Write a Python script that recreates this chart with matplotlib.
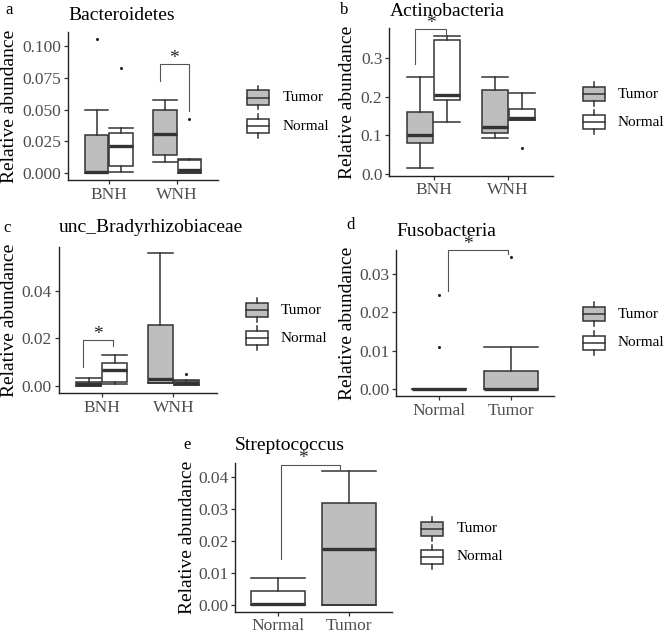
import matplotlib
matplotlib.use('Agg')
import matplotlib.pyplot as plt
from matplotlib.patches import Rectangle
from matplotlib.lines import Line2D

plt.rcParams['font.family'] = ['Liberation Serif', 'DejaVu Serif']

W, H = 667, 632

# ---------------- data (whislo, q1, median, q3, whishi) ----------------
groups_ab = ["BNH", "WNH"]
groups_de = ["Normal", "Tumor"]

# a: Bacteroidetes
bact_tumor = [[0.0, 0.0, 0.0013, 0.0298, 0.0497], [0.0086, 0.0141, 0.0309, 0.0495, 0.0576]]
bact_tumor_fliers = [[0.1055], []]
bact_normal = [[0.0013, 0.0058, 0.0217, 0.0317, 0.0351], [0.0, 0.0, 0.0026, 0.0105, 0.0113]]
bact_normal_fliers = [[0.0822], [0.0427]]
bact_yticks = [0.0, 0.025, 0.05, 0.075, 0.1]
bact_yticklabels = ["0.000", "0.025", "0.050", "0.075", "0.100"]

# b: Actinobacteria
actino_tumor = [[0.0153, 0.0797, 0.1017, 0.161, 0.250], [0.094, 0.106, 0.121, 0.218, 0.250]]
actino_tumor_fliers = [[], []]
actino_normal = [[0.136, 0.192, 0.2034, 0.347, 0.356], [0.140, 0.140, 0.144, 0.169, 0.2085]]
actino_normal_fliers = [[], [0.0678]]
actino_yticks = [0.0, 0.1, 0.2, 0.3]
actino_yticklabels = ["0.0", "0.1", "0.2", "0.3"]

# c: unc_Bradyrhizobiaceae
brady_tumor = [[0.0, 0.0001, 0.00084, 0.00168, 0.00336], [0.0012, 0.0013, 0.0031, 0.0255, 0.0558]]
brady_tumor_fliers = [[], []]
brady_normal = [[0.0008, 0.0017, 0.0066, 0.0098, 0.0130], [0.0003, 0.0004, 0.0013, 0.0022, 0.0024]]
brady_normal_fliers = [[], [0.0049]]
brady_yticks = [0.0, 0.02, 0.04]
brady_yticklabels = ["0.00", "0.02", "0.04"]

# d: Fusobacteria (Normal, Tumor)
fuso_normal = [0.0, 0.0, 0.0, 0.0, 0.0]
fuso_normal_fliers = [0.0244, 0.0109]
fuso_tumor = [0.0, 0.0, 0.0001, 0.0048, 0.0109]
fuso_tumor_fliers = [0.0344]
fuso_yticks = [0.0, 0.01, 0.02, 0.03]
fuso_yticklabels = ["0.00", "0.01", "0.02", "0.03"]

# e: Streptococcus (Normal, Tumor)
strep_normal = [0.0, 0.0, 0.0003, 0.0045, 0.0083]
strep_normal_fliers = []
strep_tumor = [0.0, 0.0, 0.0176, 0.0319, 0.0419]
strep_tumor_fliers = []
strep_yticks = [0.0, 0.01, 0.02, 0.03, 0.04]
strep_yticklabels = ["0.00", "0.01", "0.02", "0.03", "0.04"]

# significance brackets: (x_left, x_right, y_top, y_left_end, y_right_end, x_star)
bact_sig = (1.75, 2.17, 0.0856, 0.0725, 0.049, 1.96)
actino_sig = (0.75, 1.165, 0.374, 0.2856, 0.360, 0.957)
brady_sig = (0.744, 1.161, 0.0193, 0.0081, 0.0168, 0.952)
fuso_sig = (1.124, 1.956, 0.0360, 0.0255, 0.0350, 1.403)
strep_sig = (1.042, 1.873, 0.0438, 0.0143, 0.0421, 1.352)

legend_labels = ["Tumor", "Normal"]

# ---------------- styling ----------------
TUMOR_FILL = '#BEBEBE'
NORMAL_FILL = '#FFFFFF'
EDGE = '#333333'
TICKCOL = '#4D4D4D'

fig = plt.figure(figsize=(W / 100, H / 100), dpi=100)


def axrect(l, r, t, b):
    return [l / W, 1 - b / H, (r - l) / W, (b - t) / H]


def stats_of(s, f):
    lo, q1, med, q3, hi = s
    return dict(whislo=lo, q1=q1, med=med, q3=q3, whishi=hi, fliers=f)


def draw_boxes(ax, stats_list, fliers_list, positions, fill, width):
    stats = [stats_of(s, f) for s, f in zip(stats_list, fliers_list)]
    ax.bxp(stats, positions=positions, widths=width, capwidths=width,
           patch_artist=True, manage_ticks=False,
           boxprops=dict(facecolor=fill, edgecolor=EDGE, linewidth=1.1),
           medianprops=dict(color=EDGE, linewidth=2.4, solid_capstyle='butt'),
           whiskerprops=dict(color=EDGE, linewidth=1.1),
           capprops=dict(color=EDGE, linewidth=1.1),
           flierprops=dict(marker='o', markersize=1.2, markerfacecolor='#222222',
                           markeredgecolor='#222222', linestyle='none'))


def style_ax(ax, ylim, yticks, yticklabels, xlabels):
    ax.set_xlim(0.4, 2.6)
    ax.set_ylim(*ylim)
    ax.set_xticks([1, 2])
    ax.set_xticklabels(xlabels)
    ax.set_yticks(yticks)
    ax.set_yticklabels(yticklabels)
    for s in ['top', 'right']:
        ax.spines[s].set_visible(False)
    for s in ['left', 'bottom']:
        ax.spines[s].set_color('#222222')
        ax.spines[s].set_linewidth(1.0)
    ax.tick_params(axis='both', length=3.2, width=0.9, color='#333333',
                   labelcolor=TICKCOL, labelsize=12.5, pad=1.5)
    ax.patch.set_alpha(0)


def bracket(ax, sig):
    x1, x2, yt, yl, yr, xs = sig
    ax.plot([x1, x1, x2, x2], [yl, yt, yt, yr], color='#555555', lw=0.8,
            clip_on=False, zorder=5)
    ax.annotate('*', xy=(xs, yt), xytext=(0, -2), textcoords='offset points',
                ha='center', va='bottom', fontsize=14, color='#222222',
                annotation_clip=False)


off = 0.18
bw = 0.345

# a
ax_a = fig.add_axes(axrect(68, 218, 32, 180))
draw_boxes(ax_a, bact_tumor, bact_tumor_fliers, [1 - off, 2 - off], TUMOR_FILL, bw)
draw_boxes(ax_a, bact_normal, bact_normal_fliers, [1 + off, 2 + off], NORMAL_FILL, bw)
style_ax(ax_a, (-0.0053, 0.1108), bact_yticks, bact_yticklabels, groups_ab)
bracket(ax_a, bact_sig)

# b
ax_b = fig.add_axes(axrect(389, 553, 28.3, 175.7))
draw_boxes(ax_b, actino_tumor, actino_tumor_fliers, [1 - off, 2 - off], TUMOR_FILL, bw)
draw_boxes(ax_b, actino_normal, actino_normal_fliers, [1 + off, 2 + off], NORMAL_FILL, bw)
style_ax(ax_b, (-0.004, 0.377), actino_yticks, actino_yticklabels, groups_ab)
bracket(ax_b, actino_sig)

# c
ax_c = fig.add_axes(axrect(58.5, 216.5, 246.5, 393.3))
draw_boxes(ax_c, brady_tumor, brady_tumor_fliers, [1 - off, 2 - off], TUMOR_FILL, bw)
draw_boxes(ax_c, brady_normal, brady_normal_fliers, [1 + off, 2 + off], NORMAL_FILL, bw)
style_ax(ax_c, (-0.0030, 0.0586), brady_yticks, brady_yticklabels, groups_ab)
bracket(ax_c, brady_sig)

# d
ax_d = fig.add_axes(axrect(396, 554, 250, 396))
draw_boxes(ax_d, [fuso_normal], [fuso_normal_fliers], [1], NORMAL_FILL, 0.75)
draw_boxes(ax_d, [fuso_tumor], [fuso_tumor_fliers], [2], TUMOR_FILL, 0.75)
style_ax(ax_d, (-0.0017, 0.0361), fuso_yticks, fuso_yticklabels, groups_de)
bracket(ax_d, fuso_sig)

# e
ax_e = fig.add_axes(axrect(235.4, 391.6, 463.3, 611.7))
draw_boxes(ax_e, [strep_normal], [strep_normal_fliers], [1], NORMAL_FILL, 0.75)
draw_boxes(ax_e, [strep_tumor], [strep_tumor_fliers], [2], TUMOR_FILL, 0.75)
style_ax(ax_e, (-0.0021, 0.0442), strep_yticks, strep_yticklabels, groups_de)
ax_e.tick_params(axis='x', pad=1.0)
bracket(ax_e, strep_sig)

# ---------------- overlay: titles, letters, y labels, legends ----------------
ov = fig.add_axes([0, 0, 1, 1])
ov.set_xlim(0, W)
ov.set_ylim(H, 0)
ov.axis('off')
ov.patch.set_alpha(0)
ov.set_zorder(-1)

letters = [("a", 5, 10), ("b", 340, 10), ("c", 3, 228), ("d", 346, 225), ("e", 183, 445)]
for t, x, y in letters:
    ov.text(x, y, t, fontsize=12, ha='left', va='center', color='black')

titles = [("Bacteroidetes", 68, 15), ("Actinobacteria", 390, 12),
          ("unc_Bradyrhizobiaceae", 59, 228), ("Fusobacteria", 396, 232),
          ("Streptococcus", 235, 445)]
for t, x, y in titles:
    ov.text(x, y, t, fontsize=14, ha='left', va='center', color='black')

ylabs = [(10, 106), (348, 102), (10, 320), (348, 323), (187, 537)]
for x, y in ylabs:
    ov.text(x, y, "Relative abundance", fontsize=14, rotation=90,
            ha='center', va='center', color='black')


def legend_glyph(x, yc, fill):
    bw_, bh_ = 21.7, 14.7
    wl = 4.3
    ov.add_patch(Rectangle((x, yc - bh_ / 2), bw_, bh_, facecolor=fill,
                           edgecolor=EDGE, linewidth=1.1))
    ov.add_line(Line2D([x, x + bw_], [yc, yc], color=EDGE, linewidth=1.1))
    cx = x + bw_ / 2
    ov.add_line(Line2D([cx, cx], [yc - bh_ / 2 - wl, yc - bh_ / 2], color=EDGE, linewidth=1.1))
    ov.add_line(Line2D([cx, cx], [yc + bh_ / 2, yc + bh_ / 2 + wl], color=EDGE, linewidth=1.1))


legends = [(247, 283, 97.5, 126), (583, 618, 94, 122), (246, 281, 310, 338),
           (583, 618, 314, 343), (421, 457, 529, 557)]
for gx, tx, y1, y2 in legends:
    legend_glyph(gx, y1, TUMOR_FILL)
    legend_glyph(gx, y2, NORMAL_FILL)
    ov.text(tx, y1, legend_labels[0], fontsize=11, ha='left', va='center', color='black')
    ov.text(tx, y2, legend_labels[1], fontsize=11, ha='left', va='center', color='black')

fig.savefig('out.png', dpi=100)
